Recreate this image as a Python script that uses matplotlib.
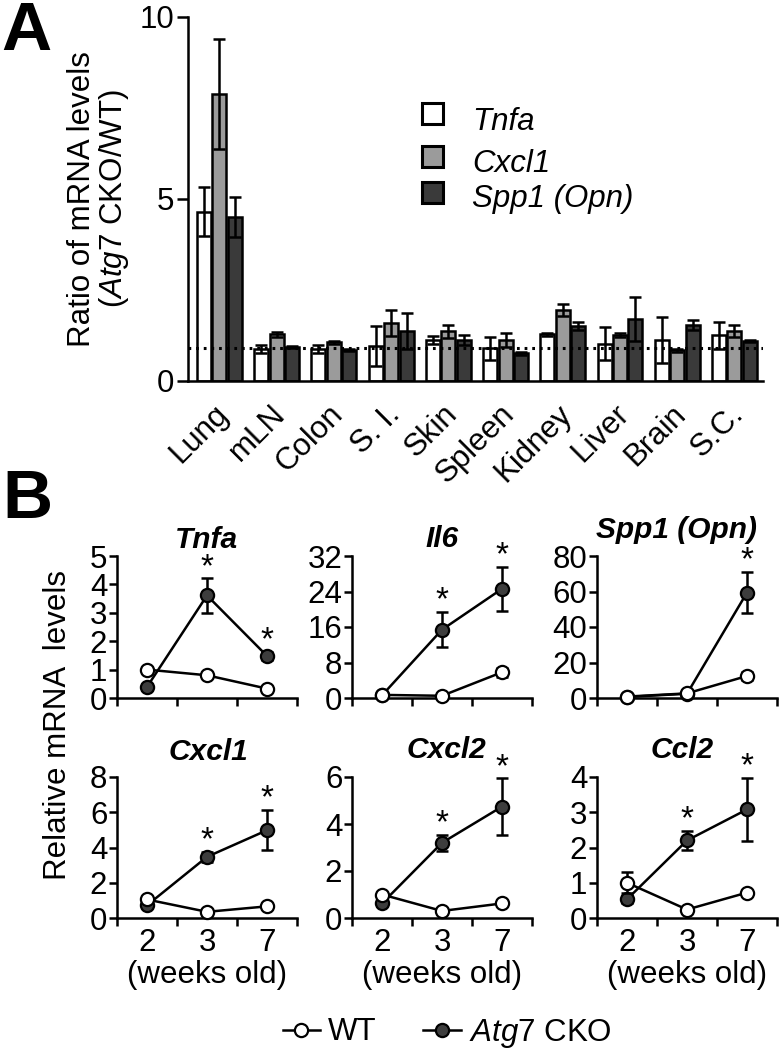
import matplotlib
matplotlib.use("Agg")
import matplotlib.pyplot as plt
from matplotlib.patches import Rectangle
from matplotlib.lines import Line2D
import matplotlib.transforms as mtransforms
import numpy as np

plt.rcParams['font.family'] = ['Liberation Sans', 'DejaVu Sans']
plt.rcParams['mathtext.fontset'] = 'custom'
plt.rcParams['mathtext.rm'] = 'Liberation Sans'
plt.rcParams['mathtext.it'] = 'Liberation Sans:italic'
plt.rcParams['mathtext.bf'] = 'Liberation Sans:bold'

# ---------------- Data: panel A ----------------
tissues = ['Lung', 'mLN', 'Colon', 'S. I.', 'Skin', 'Spleen', 'Kidney', 'Liver', 'Brain', 'S.C.']
series_names = ['Tnfa', 'Cxcl1', 'Spp1 (Opn)']
tnfa_ratio = [4.65, 0.88, 0.88, 0.97, 1.13, 0.90, 1.28, 1.03, 1.12, 1.26]
tnfa_err = [0.68, 0.10, 0.12, 0.55, 0.10, 0.32, 0.03, 0.46, 0.63, 0.37]
cxcl1_ratio = [7.88, 1.28, 1.06, 1.60, 1.36, 1.13, 1.95, 1.26, 0.84, 1.37]
cxcl1_err = [1.52, 0.07, 0.05, 0.35, 0.18, 0.20, 0.17, 0.05, 0.05, 0.17]
spp1_ratio = [4.50, 0.94, 0.85, 1.38, 1.13, 0.76, 1.51, 1.70, 1.54, 1.10]
spp1_err = [0.55, 0.03, 0.02, 0.50, 0.13, 0.05, 0.12, 0.60, 0.13, 0.04]
baseline_ratio = 0.9
a_yticks = [0, 5, 10]

# ---------------- Data: panel B ----------------
weeks = ['2', '3', '7']
gene_titles = ['Tnfa', 'Il6', 'Spp1 (Opn)', 'Cxcl1', 'Cxcl2', 'Ccl2']

tnfa_wt = [1.00, 0.80, 0.33]
tnfa_wt_err = [0.05, 0.05, 0.05]
tnfa_cko = [0.39, 3.61, 1.48]
tnfa_cko_err = [0.10, 0.60, 0.15]

il6_wt = [0.7, 0.5, 5.8]
il6_wt_err = [0.2, 0.2, 1.0]
il6_cko = [0.6, 15.4, 24.6]
il6_cko_err = [0.2, 4.0, 5.0]

spp1_wt = [0.8, 2.6, 12.4]
spp1_wt_err = [0.2, 0.5, 2.0]
spp1_cko = [0.6, 2.4, 59.4]
spp1_cko_err = [0.2, 0.5, 11.5]

cxcl1_wt = [1.05, 0.35, 0.66]
cxcl1_wt_err = [0.05, 0.05, 0.05]
cxcl1_cko = [0.72, 3.47, 4.98]
cxcl1_cko_err = [0.10, 0.30, 1.15]

cxcl2_wt = [1.00, 0.30, 0.62]
cxcl2_wt_err = [0.05, 0.05, 0.05]
cxcl2_cko = [0.62, 3.20, 4.74]
cxcl2_cko_err = [0.10, 0.35, 1.20]

ccl2_wt = [1.00, 0.24, 0.72]
ccl2_wt_err = [0.30, 0.05, 0.05]
ccl2_cko = [0.53, 2.20, 3.08]
ccl2_cko_err = [0.10, 0.28, 0.90]

tnfa_sig = [False, True, True]
il6_sig = [False, True, True]
spp1_sig = [False, False, True]
cxcl1_sig = [False, True, True]
cxcl2_sig = [False, True, True]
ccl2_sig = [False, True, True]

tnfa_yticks = [0, 1, 2, 3, 4, 5]
il6_yticks = [0, 8, 16, 24, 32]
spp1_yticks = [0, 20, 40, 60, 80]
cxcl1_yticks = [0, 2, 4, 6, 8]
cxcl2_yticks = [0, 2, 4, 6]
ccl2_yticks = [0, 1, 2, 3, 4]

# ---------------- Figure ----------------
W, H = 779, 1050
fig = plt.figure(figsize=(W / 100, H / 100), dpi=100)


def rect(x0, y0, x1, y1):
    return [x0 / W, 1 - y1 / H, (x1 - x0) / W, (y1 - y0) / H]


def fx(x):
    return x / W


def fy(y):
    return 1 - y / H


FS = 22.5
LW = 1.8

# ---------------- Panel A ----------------
axA = fig.add_axes(rect(188, 17, 763, 381))
x = np.arange(len(tissues))
bw = 0.245
off = 0.27
colors = ['white', '#9b9b9b', '#3a3a3a']
vals = [tnfa_ratio, cxcl1_ratio, spp1_ratio]
errs = [tnfa_err, cxcl1_err, spp1_err]
for k in range(3):
    axA.bar(x + (k - 1) * off, vals[k], bw, color=colors[k], edgecolor='black',
            linewidth=LW, zorder=2)
    axA.errorbar(x + (k - 1) * off, vals[k], yerr=errs[k], fmt='none', ecolor='black',
                 elinewidth=LW, capsize=4, capthick=LW, zorder=3)
axA.axhline(baseline_ratio, color='black', lw=2.2, ls=(0, (0.9, 1.6)), zorder=4)
axA.set_xlim(-0.55, 9.5)
axA.set_ylim(0, 10)
axA.set_yticks(a_yticks)
axA.set_yticklabels([str(t) for t in a_yticks])
axA.set_xticks(x)
axA.set_xticklabels(tissues, rotation=45, ha='right', va='top', rotation_mode='anchor')
axA.tick_params(axis='x', length=0, pad=13, labelsize=FS)
shift = mtransforms.ScaledTranslation(-6 / 100, 0, fig.dpi_scale_trans)
for lab in axA.get_xticklabels():
    lab.set_transform(lab.get_transform() + shift)
axA.tick_params(axis='y', length=8, width=LW, labelsize=FS, pad=2)
for s in ['top', 'right']:
    axA.spines[s].set_visible(False)
for s in ['left', 'bottom']:
    axA.spines[s].set_linewidth(LW)
axA.set_ylabel('Ratio of mRNA levels\n($\\mathit{Atg7}$ CKO/WT)', fontsize=FS,
               linespacing=1.0, labelpad=6)

# legend for panel A (drawn manually)
leg_box_y = [103, 146, 182]
leg_text_base = [130, 172, 207]
for k in range(3):
    fig.add_artist(Rectangle((fx(422), fy(leg_box_y[k] + 21)), 21 / W, 21 / H,
                             transform=fig.transFigure, facecolor=colors[k],
                             edgecolor='black', linewidth=2.2))
    fig.text(fx(472), fy(leg_text_base[k]), series_names[k], fontsize=FS,
             style='italic', va='baseline', ha='left')

fig.text(fx(1), fy(50), 'A', fontsize=50, fontweight='bold', va='baseline', ha='left')
fig.text(fx(2), fy(518), 'B', fontsize=50, fontweight='bold', va='baseline', ha='left')

# ---------------- Panel B ----------------
cols = [(117, 297), (352, 532), (597, 777)]
rows = [(556, 698), (777, 918)]
panels = [
    (tnfa_wt, tnfa_wt_err, tnfa_cko, tnfa_cko_err, tnfa_sig, tnfa_yticks),
    (il6_wt, il6_wt_err, il6_cko, il6_cko_err, il6_sig, il6_yticks),
    (spp1_wt, spp1_wt_err, spp1_cko, spp1_cko_err, spp1_sig, spp1_yticks),
    (cxcl1_wt, cxcl1_wt_err, cxcl1_cko, cxcl1_cko_err, cxcl1_sig, cxcl1_yticks),
    (cxcl2_wt, cxcl2_wt_err, cxcl2_cko, cxcl2_cko_err, cxcl2_sig, cxcl2_yticks),
    (ccl2_wt, ccl2_wt_err, ccl2_cko, ccl2_cko_err, ccl2_sig, ccl2_yticks),
]
title_pos = [(206, 548), (442, 547), (677, 538), (208, 760), (446, 758), (682, 758)]
cko_color = '#3d3d3d'
MS = 9.5
MEW = 1.6
xp = np.array([0.5, 1.5, 2.5])

for i, (wt, wte, cko, ckoe, sig, yt) in enumerate(panels):
    r, c = divmod(i, 3)
    ax = fig.add_axes(rect(cols[c][0], rows[r][0], cols[c][1], rows[r][1]))
    ax.plot(xp, cko, color='black', lw=LW, zorder=2, clip_on=False)
    ax.plot(xp, wt, color='black', lw=LW, zorder=2, clip_on=False)
    ax.errorbar(xp, cko, yerr=ckoe, fmt='none', ecolor='black', elinewidth=LW,
                capsize=4.5, capthick=LW, zorder=3, clip_on=False)
    ax.plot(xp, cko, 'o', ms=MS, mfc=cko_color, mec='black', mew=MEW, zorder=4,
            clip_on=False)
    ax.errorbar(xp, wt, yerr=wte, fmt='none', ecolor='black', elinewidth=LW,
                capsize=4.5, capthick=LW, zorder=5, clip_on=False)
    ax.plot(xp, wt, 'o', ms=MS, mfc='white', mec='black', mew=MEW, zorder=6,
            clip_on=False)
    ax.set_xlim(0, 3)
    ax.set_ylim(0, yt[-1])
    ax.set_yticks(yt)
    ax.set_yticklabels([str(t) for t in yt])
    ax.set_xticks([0, 1, 2, 3])
    ax.set_xticklabels([])
    ax.tick_params(axis='both', length=6, width=LW, labelsize=FS, pad=1)
    for s in ['top', 'right']:
        ax.spines[s].set_visible(False)
    for s in ['left', 'bottom']:
        ax.spines[s].set_linewidth(LW)
    if r == 1:
        ax.set_xticks(xp, minor=True)
        ax.set_xticklabels(weeks, minor=True)
        ax.tick_params(axis='x', which='minor', length=0, labelsize=FS, pad=7)
        ax.text(1.5, -0.30, '(weeks old)', transform=ax.get_xaxis_transform(),
                ha='center', va='top', fontsize=FS)
    for j in range(3):
        if sig[j]:
            top = cko[j] + ckoe[j]
            ax.annotate('*', (xp[j], top), xytext=(0, 8), textcoords='offset points',
                        ha='center', va='center', fontsize=24, annotation_clip=False)
    tx, ty = title_pos[i]
    fig.text(fx(tx), fy(ty), gene_titles[i], fontsize=21.5, fontweight='bold',
             style='italic', ha='center', va='baseline')

fig.text(fx(58), fy(725), 'Relative mRNA  levels', rotation=90, fontsize=FS,
         ha='center', va='center')

# legend for panel B
handles = [
    Line2D([], [], color='black', lw=LW, marker='o', ms=MS, mfc='white', mec='black', mew=MEW),
    Line2D([], [], color='black', lw=LW, marker='o', ms=MS, mfc=cko_color, mec='black', mew=MEW),
]
fig.legend(handles, ['WT', '$\\mathit{Atg7}$ CKO'], loc='center', ncol=2,
           bbox_to_anchor=(fx(447), fy(1033)), frameon=False, fontsize=FS,
           handlelength=1.2, handletextpad=0.25, columnspacing=1.5)

fig.savefig('out.png', dpi=100)
